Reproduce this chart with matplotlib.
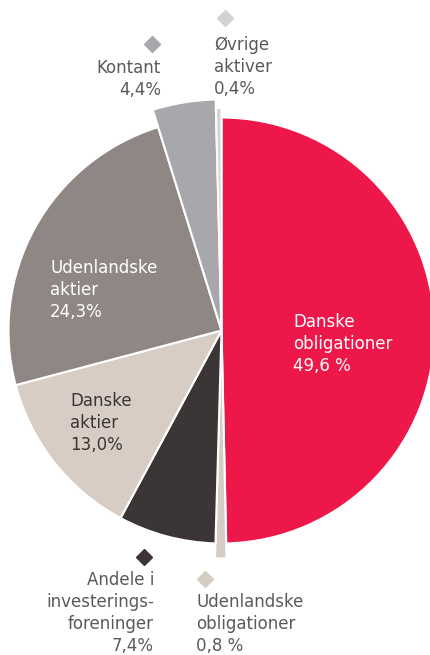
import matplotlib.pyplot as plt

# asset allocation, clockwise from 12 o'clock
categories = ["Danske obligationer", "Udenlandske obligationer",
              "Andele i investeringsforeninger", "Danske aktier",
              "Udenlandske aktier", "Kontant", "Øvrige aktiver"]
shares = [49.6, 0.8, 7.4, 13.0, 24.3, 4.4, 0.4]
share_labels = ["49,6 %", "0,8 %", "7,4%", "13,0%", "24,3%", "4,4%", "0,4%"]

colors = ["#EE1749", "#D5CCC4", "#3B3536", "#D7CDC4",
          "#8F8784", "#A8A8AC", "#D3D3D6"]
radii = [1.0, 1.07, 1.0, 1.0, 1.0, 1.085, 1.045]

W, H = 430, 655
CX, CY, R = 221.5, 330.5, 213.0


def px(x, y):
    # pixel position -> data coords (pie radius 1 == R px)
    return (x - CX) / R, (CY - y) / R


fig = plt.figure(figsize=(W / 100, H / 100), dpi=100)
ax = fig.add_axes([0, 0, 1, 1])

wedges, _ = ax.pie(shares, colors=colors, startangle=90, counterclock=False,
                   radius=1.0, normalize=True,
                   wedgeprops=dict(edgecolor="white", linewidth=1.5))
for w, r in zip(wedges, radii):
    w.set_radius(r)
ax.set_aspect("equal")
ax.set_xlim(px(0, 0)[0], px(W, 0)[0])
ax.set_ylim(px(0, H)[1], px(0, 0)[1])
ax.axis("off")

FS = 12
GREY = "#5A5A5A"
STEP = 22.0


def label(lines, x, y0, color, ha="left"):
    for i, s in enumerate(lines):
        ax.text(*px(x, y0 + i * STEP), s, color=color, fontsize=FS,
                ha=ha, va="baseline")


# labels inside the pie
label(["Danske", "obligationer", share_labels[0]], 293, 327, "white")
label(["Udenlandske", "aktier", share_labels[4]], 50, 273, "white")
label(["Danske", "aktier", share_labels[3]], 70, 406, "#3B3536")

# outside labels with diamond keys
label(["Kontant", share_labels[5]], 161, 73, GREY, ha="right")
ax.plot(*px(152, 44), marker="D", ms=8.5, color=colors[5], ls="none")

label(["Øvrige", "aktiver", share_labels[6]], 214, 50, GREY)
ax.plot(*px(225, 18), marker="D", ms=8.5, color=colors[6], ls="none")

label(["Andele i", "investerings-", "foreninger", share_labels[2]],
      154, 585, GREY, ha="right")
ax.plot(*px(144, 557), marker="D", ms=8.5, color=colors[2], ls="none")

label(["Udenlandske", "obligationer", share_labels[1]], 196, 607, GREY)
ax.plot(*px(205, 579), marker="D", ms=8.5, color=colors[1], ls="none")

fig.savefig("out.png", dpi=100)
